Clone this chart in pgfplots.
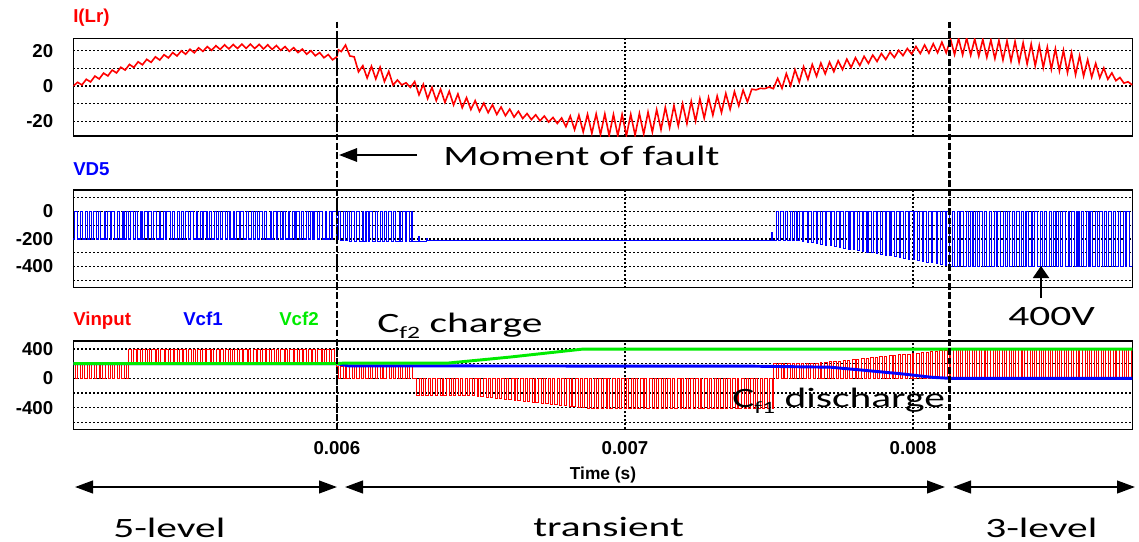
\documentclass[border=0pt]{standalone}
\usepackage{fontspec}
\setmainfont{Liberation Sans}
\newfontfamily\calib{Carlito}
\usepackage{graphicx}
\usepackage{pgfplots}
\pgfplotsset{compat=1.18}
\usetikzlibrary{arrows.meta}
\definecolor{vgreen}{RGB}{0,235,0}
\newcommand\ticfont{\fontsize{14}{14}\selectfont\bfseries}
\newcommand\labfont{\fontsize{14}{14}\selectfont\bfseries}
\newcommand\ann[1]{\scalebox{1.48}[1]{\calib\fontsize{21}{21}\selectfont #1}}
\pgfplotsset{panel/.style={
  scale only axis, width=794.25pt, xmin=5085, xmax=8761,
  xtick={6000,7000,8000}, xticklabels={},
  grid=major, major grid style={black, line width=0.95pt, dash pattern=on 1.4pt off 1.6pt},
  major tick length=0pt,
  axis line style={black, line width=1.1pt},
  tick label style={font=\ticfont},
  yticklabel style={xshift=-11.5pt},
  /pgf/number format/assume math mode=true,
  anchor=north west,
}}
\begin{document}
\begin{tikzpicture}
\useasboundingbox (0,0) rectangle (854.25pt,-406.5pt);
% ---------- Panel 1: I(Lr)
\begin{axis}[panel, at={(54.975pt,-28.725pt)}, height=73.275pt,
  ymin=-28.3, ymax=27, ytick={-20,-10,0,10,20}, yticklabels={-20,,0,,20}]
\addplot[red, line width=1.2pt] coordinates {
(5085,0.0)(5100,2.1)(5115,0.6)(5130,3.8)(5145,2.3)(5160,5.6)(5175,4.0)(5190,7.3)(5205,5.7)(5220,9.0)
(5235,7.4)(5250,10.6)(5265,9.0)(5280,12.2)(5295,10.5)(5310,13.7)(5325,12.0)(5340,15.1)(5355,13.4)(5370,16.5)
(5385,14.7)(5400,17.7)(5415,15.9)(5430,18.9)(5445,17.0)(5460,19.9)(5475,18.0)(5490,20.8)(5505,18.8)(5520,21.6)
(5535,19.6)(5550,22.3)(5565,20.2)(5580,22.8)(5595,20.7)(5610,23.3)(5625,21.0)(5640,23.5)(5655,21.2)(5670,23.7)
(5685,21.3)(5700,23.7)(5715,21.2)(5730,23.6)(5745,21.0)(5760,23.3)(5775,20.7)(5790,22.9)(5805,20.2)(5820,22.3)
(5835,19.6)(5850,21.7)(5865,18.9)(5880,20.9)(5895,18.0)(5910,20.0)(5925,17.1)(5940,18.9)(5955,16.0)(5970,17.8)
(5985,14.8)(6000,16.6)
(6005,20.5)(6015,19.5)(6030,23.2)(6045,17.0)(6060,16.5)(6075,8.0)(6090,11.5)(6105,4.5)(6120,11.2)(6135,4.0)
(6150,10.7)(6165,2.5)(6180,8.3)(6195,0.5)(6210,3.4)(6225,0.6)(6240,1.8)(6255,-0.8)(6270,2.5)(6285,-5.0)
(6300,1.0)(6315,-7.2)(6330,-0.8)(6345,-8.3)(6360,-1.8)(6375,-9.3)(6390,-3.0)(6405,-10.7)(6420,-4.5)(6435,-12.3)
(6450,-6.6)(6465,-13.3)(6480,-8.3)(6495,-14.4)(6510,-9.7)(6525,-15.1)(6540,-10.6)(6555,-16.1)(6570,-11.9)(6585,-16.8)
(6600,-13.1)(6615,-17.6)(6630,-14.3)(6645,-18.4)(6660,-15.6)(6675,-19.0)(6690,-16.3)(6705,-19.7)(6720,-17.0)(6735,-20.4)
(6750,-17.8)(6765,-21.2)(6780,-18.1)(6795,-23.0)(6810,-17.0)(6825,-24.7)(6840,-16.5)(6855,-26.0)(6870,-16.0)(6885,-26.8)
(6900,-15.8)(6915,-27.5)(6930,-15.8)(6945,-28.0)(6960,-16.1)(6975,-28.1)(6990,-16.1)(7005,-28.1)(7020,-16.0)(7035,-27.8)
(7050,-15.5)(7065,-27.2)(7080,-14.8)(7095,-26.1)(7110,-13.4)(7125,-24.7)(7140,-12.1)(7155,-23.6)(7170,-11.1)(7185,-22.6)
(7200,-10.0)(7215,-21.3)(7230,-8.6)(7245,-19.9)(7260,-7.2)(7275,-18.2)(7290,-6.6)(7305,-16.5)(7320,-5.7)(7335,-15.0)
(7350,-4.2)(7365,-13.2)(7380,-3.2)(7395,-11.2)(7410,-2.3)(7425,-9.0)(7440,-1.8)(7455,-2.2)(7470,-1.3)(7485,-1.5)
(7500,-0.6)(7515,-1.5)(7530,4.3)(7545,-1.3)(7560,7.0)(7575,0.2)(7590,9.2)(7605,2.2)(7620,10.9)(7635,3.7)
(7650,12.2)(7665,5.5)(7680,13.0)(7695,6.9)(7710,13.5)(7725,8.1)(7740,14.3)(7755,9.3)(7770,15.2)(7785,10.5)
(7800,16.0)(7815,11.6)(7830,16.8)(7845,12.8)(7860,17.5)(7875,13.9)(7890,18.4)(7905,15.0)(7920,19.2)(7935,16.1)
(7950,20.2)(7965,17.2)(7980,21.2)(7995,18.1)(8010,22.4)(8025,18.4)(8040,23.2)(8055,18.6)(8070,23.9)(8085,18.8)
(8100,24.8)(8115,18.8)
(8130,26.5)(8144,17.8)(8158,26.8)(8172,17.6)(8186,27.0)(8200,17.4)(8214,26.6)(8228,16.9)(8242,26.3)(8256,16.2)
(8270,26.0)(8284,15.5)(8298,25.7)(8312,14.7)(8326,25.5)(8340,14.1)(8354,25.2)(8368,13.4)(8382,24.5)(8396,12.4)
(8410,23.8)(8424,11.4)(8438,22.9)(8452,10.4)(8466,22.0)(8480,9.5)(8494,21.1)(8508,8.6)(8522,20.2)(8536,7.6)
(8550,18.9)(8564,6.4)(8578,17.1)(8592,5.6)(8606,14.9)(8620,5.0)(8634,12.8)(8648,4.6)(8662,10.2)(8676,3.8)
(8690,7.4)(8704,3.0)(8718,4.8)(8732,1.6)(8746,2.4)(8761,0.6)};
\coordinate (F1t) at (axis cs:6000,27);
\coordinate (F2t) at (axis cs:8126,27);
\end{axis}
% ---------- Panel 2: VD5
\begin{axis}[panel, at={(54.975pt,-142.5pt)}, height=73.275pt,
  ymin=-554, ymax=156, ytick={-500,-400,-300,-200,-100,0,100}, yticklabels={,-400,,-200,,0,}]
\addplot[blue, line width=0.8pt, const plot] coordinates {
(5085,-200)(5090,0)(5101,-200)(5109,0)(5117,-200)(5128,0)(5133,-200)(5141,0)(5149,-200)(5154,0)
(5165,-200)(5173,0)(5181,-200)(5192,0)(5197,-200)(5205,0)(5213,-200)(5218,0)(5229,-200)(5237,0)
(5245,-200)(5256,0)(5261,-200)(5269,0)(5277,-200)(5282,0)(5293,-200)(5301,0)(5309,-200)(5320,0)
(5325,-200)(5333,0)(5341,-200)(5346,0)(5357,-200)(5365,0)(5373,-200)(5384,0)(5389,-200)(5397,0)
(5405,-200)(5410,0)(5421,-200)(5429,0)(5437,-200)(5448,0)(5453,-200)(5461,0)(5469,-200)(5474,0)
(5485,-200)(5493,0)(5501,-200)(5512,0)(5517,-200)(5525,0)(5533,-200)(5538,0)(5549,-200)(5557,0)
(5565,-200)(5576,0)(5581,-200)(5589,0)(5597,-200)(5602,0)(5613,-200)(5621,0)(5629,-200)(5640,0)
(5645,-200)(5653,0)(5661,-200)(5666,0)(5677,-200)(5685,0)(5693,-200)(5704,0)(5709,-200)(5717,0)
(5725,-200)(5730,0)(5741,-200)(5749,0)(5757,-200)(5768,0)(5773,-200)(5781,0)(5789,-200)(5794,0)
(5805,-200)(5813,0)(5821,-200)(5832,0)(5837,-200)(5845,0)(5853,-200)(5858,0)(5869,-200)(5877,0)
(5885,-200)(5896,0)(5901,-200)(5909,0)(5917,-200)(5922,0)(5933,-200)(5941,0)(5949,-200)(5960,0)
(5965,-200)(5973,0)(5981,-200)(5986,0)
(5997,-205)(6005,0)(6013,-210)(6024,0)(6029,-210)(6037,0)(6045,-215)(6050,0)(6061,-215)(6069,0)
(6077,-220)(6088,0)(6093,-220)(6101,0)(6109,-220)(6114,0)(6125,-220)(6133,0)(6141,-220)(6152,0)
(6157,-220)(6165,0)(6173,-220)(6178,0)(6189,-220)(6197,0)(6205,-220)(6216,0)(6221,-220)(6229,0)
(6237,-220)(6242,0)(6253,-220)(6258,0)
(6262,-215)(6285,-185)(6288,-215)(6310,-195)(6313,-213)(7508,-150)(7512,-213)
(7525,0)(7533,-213)(7541,0)(7551,-213)(7557,0)(7563,-213)(7573,0)(7582,-213)(7589,0)(7597,-213)
(7605,0)(7616,-217)(7621,0)(7632,-222)(7637,0)(7648,-228)(7653,0)(7664,-233)(7669,0)(7680,-239)
(7685,0)(7696,-244)(7701,0)(7712,-250)(7717,0)(7728,-256)(7733,0)(7744,-261)(7749,0)(7760,-267)
(7765,0)(7776,-273)(7781,0)(7792,-278)(7797,0)(7808,-284)(7813,0)(7824,-289)(7829,0)(7840,-295)
(7845,0)(7856,-301)(7861,0)(7872,-306)(7877,0)(7888,-312)(7893,0)(7904,-318)(7909,0)(7920,-323)
(7925,0)(7936,-329)(7941,0)(7952,-335)(7957,0)(7968,-340)(7973,0)(7984,-346)(7989,0)(8000,-351)
(8005,0)(8016,-357)(8021,0)(8032,-363)(8037,0)(8048,-368)(8053,0)(8064,-374)(8069,0)(8080,-380)
(8085,0)(8096,-385)(8101,0)(8112,-391)(8117,0)
(8128,-400)(8136,0)(8144,-400)(8154,0)(8160,-400)(8166,0)(8176,-400)(8185,0)(8192,-400)(8200,0)
(8208,-400)(8218,0)(8224,-400)(8230,0)(8240,-400)(8249,0)(8256,-400)(8264,0)(8272,-400)(8282,0)
(8288,-400)(8294,0)(8304,-400)(8313,0)(8320,-400)(8328,0)(8336,-400)(8346,0)(8352,-400)(8358,0)
(8368,-400)(8377,0)(8384,-400)(8392,0)(8400,-400)(8410,0)(8416,-400)(8422,0)(8432,-400)(8441,0)
(8448,-400)(8456,0)(8464,-400)(8474,0)(8480,-400)(8486,0)(8496,-400)(8505,0)(8512,-400)(8520,0)
(8528,-400)(8538,0)(8544,-400)(8550,0)(8560,-400)(8569,0)(8576,-400)(8584,0)(8592,-400)(8602,0)
(8608,-400)(8614,0)(8624,-400)(8633,0)(8640,-400)(8648,0)(8656,-400)(8666,0)(8672,-400)(8678,0)
(8688,-400)(8697,0)(8704,-400)(8712,0)(8720,-400)(8730,0)(8736,-400)(8742,0)(8752,-400)(8761,0)};
\end{axis}
% ---------- Panel 3: Vinput, Vcf1, Vcf2
\begin{axis}[panel, at={(54.975pt,-255.75pt)}, height=66.225pt,
  ymin=-697, ymax=510, ytick={-600,-400,-200,0,200,400}, yticklabels={,-400,,0,,400},
  xticklabels={0.006,0.007,0.008}, xticklabel style={yshift=-5.8pt}]
\addplot[red, line width=0.75pt, const plot] coordinates {
(5085,200)(5093,0)(5101,200)(5111,0)(5117,200)(5123,0)(5133,200)(5142,0)(5149,200)(5157,0)
(5165,200)(5175,0)(5181,200)(5187,0)(5197,200)(5206,0)(5213,200)(5221,0)(5229,200)(5239,0)
(5245,200)(5251,0)(5261,200)(5270,0)
(5277,400)(5287,200)(5293,400)(5305,200)(5309,400)(5317,200)(5325,400)(5336,200)(5341,400)(5351,200)
(5357,400)(5369,200)(5373,400)(5381,200)(5389,400)(5400,200)(5405,400)(5415,200)(5421,400)(5433,200)
(5437,400)(5445,200)(5453,400)(5464,200)(5469,400)(5479,200)(5485,400)(5497,200)(5501,400)(5509,200)
(5517,400)(5528,200)(5533,400)(5543,200)(5549,400)(5561,200)(5565,400)(5573,200)(5581,400)(5592,200)
(5597,400)(5607,200)(5613,400)(5625,200)(5629,400)(5637,200)(5645,400)(5656,200)(5661,400)(5671,200)
(5677,400)(5689,200)(5693,400)(5701,200)(5709,400)(5720,200)(5725,400)(5735,200)(5741,400)(5753,200)
(5757,400)(5765,200)(5773,400)(5784,200)(5789,400)(5799,200)(5805,400)(5817,200)(5821,400)(5829,200)
(5837,400)(5848,200)(5853,400)(5863,200)(5869,400)(5881,200)(5885,400)(5893,200)(5901,400)(5912,200)
(5917,400)(5927,200)(5933,400)(5945,200)(5949,400)(5957,200)(5965,400)(5976,200)(5981,400)(5991,200)
(5997,165)(6005,0)(6013,165)(6023,0)(6029,165)(6035,0)(6045,165)(6054,0)(6061,165)(6069,0)
(6077,165)(6087,0)(6093,165)(6099,0)(6109,165)(6118,0)(6125,165)(6133,0)(6141,165)(6151,0)
(6157,165)(6163,0)(6173,165)(6182,0)(6189,165)(6197,0)(6205,165)(6215,0)(6221,165)(6227,0)
(6237,165)(6246,0)(6253,165)(6261,0)
(6269,0)(6277,-229)(6285,0)(6295,-229)(6301,0)(6307,-229)(6317,0)(6326,-229)(6333,0)(6341,-229)
(6349,0)(6359,-229)(6365,0)(6371,-229)(6381,0)(6390,-229)(6397,0)(6405,-229)(6413,0)(6423,-229)
(6429,0)(6435,-229)(6445,0)(6454,-231)(6461,0)(6469,-237)(6477,0)(6487,-245)(6493,0)(6499,-250)
(6509,0)(6518,-258)(6525,0)(6533,-265)(6541,0)(6551,-273)(6557,0)(6563,-278)(6573,0)(6582,-286)
(6589,0)(6597,-292)(6605,0)(6615,-300)(6621,0)(6627,-305)(6637,0)(6646,-314)(6653,0)(6661,-320)
(6669,0)(6679,-328)(6685,0)(6691,-333)(6701,0)(6710,-341)(6717,0)(6725,-348)(6733,0)(6743,-356)
(6749,0)(6755,-361)(6765,0)(6774,-369)(6781,0)(6789,-375)(6797,0)(6807,-383)(6813,0)(6819,-388)
(6829,0)(6838,-397)(6845,0)(6853,-403)(6861,0)(6871,-409)(6877,0)(6883,-409)(6893,0)(6902,-409)
(6909,0)(6917,-409)(6925,0)(6935,-409)(6941,0)(6947,-409)(6957,0)(6966,-409)(6973,0)(6981,-409)
(6989,0)(6999,-409)(7005,0)(7011,-409)(7021,0)(7030,-409)(7037,0)(7045,-409)(7053,0)(7063,-409)
(7069,0)(7075,-409)(7085,0)(7094,-409)(7101,0)(7109,-409)(7117,0)(7127,-409)(7133,0)(7139,-409)
(7149,0)(7158,-409)(7165,0)(7173,-409)(7181,0)(7191,-409)(7197,0)(7203,-409)(7213,0)(7222,-409)
(7229,0)(7237,-409)(7245,0)(7255,-409)(7261,0)(7267,-409)(7277,0)(7286,-409)(7293,0)(7301,-409)
(7309,0)(7319,-409)(7325,0)(7331,-409)(7341,0)(7350,-409)(7357,0)(7365,-409)(7373,0)(7383,-409)
(7389,0)(7395,-409)(7405,0)(7414,-409)(7421,0)(7429,-409)(7437,0)(7447,-409)(7453,0)(7459,-409)
(7469,0)(7478,-409)(7485,0)(7493,-409)(7501,0)(7511,-409)
(7517,200)(7525,0)(7533,200)(7543,0)(7549,200)(7555,0)(7565,200)(7574,0)(7581,200)(7589,0)
(7597,200)(7607,0)(7613,200)(7619,0)(7629,200)(7638,0)(7645,200)(7653,0)(7661,204)(7671,0)
(7677,211)(7683,0)(7693,217)(7702,0)(7709,224)(7717,0)(7725,230)(7735,0)(7741,236)(7747,0)
(7757,243)(7766,0)(7773,249)(7781,0)(7789,256)(7799,0)(7805,262)(7811,0)(7821,268)(7830,0)
(7837,275)(7845,0)(7853,281)(7863,0)(7869,288)(7875,0)(7885,294)(7894,0)(7901,300)(7909,0)
(7917,307)(7927,0)(7933,313)(7939,0)(7949,320)(7958,0)(7965,326)(7973,0)(7981,332)(7991,0)
(7997,339)(8003,0)(8013,345)(8022,0)(8029,352)(8037,0)(8045,358)(8055,0)(8061,364)(8067,0)
(8077,371)(8086,0)(8093,377)(8101,0)(8109,384)(8119,0)
(8125,395)(8131,0)(8141,395)(8150,0)(8157,395)(8165,0)(8173,395)(8183,0)(8189,395)(8195,0)
(8205,395)(8214,0)(8221,395)(8229,0)(8237,395)(8247,0)(8253,395)(8259,0)(8269,395)(8278,0)
(8285,395)(8293,0)(8301,395)(8311,0)(8317,395)(8323,0)(8333,395)(8342,0)(8349,395)(8357,0)
(8365,395)(8375,0)(8381,395)(8387,0)(8397,395)(8406,0)(8413,395)(8421,0)(8429,395)(8439,0)
(8445,395)(8451,0)(8461,395)(8470,0)(8477,395)(8485,0)(8493,395)(8503,0)(8509,395)(8515,0)
(8525,395)(8534,0)(8541,395)(8549,0)(8557,395)(8567,0)(8573,395)(8579,0)(8589,395)(8598,0)
(8605,395)(8613,0)(8621,395)(8631,0)(8637,395)(8643,0)(8653,395)(8662,0)(8669,395)(8677,0)
(8685,395)(8695,0)(8701,395)(8707,0)(8717,395)(8726,0)(8733,395)(8741,0)(8749,395)(8758,0)(8761,0)};
\addplot[blue, line width=2.2pt] coordinates {(5085,200)(6000,200)(6040,170)(7440,166)(7712,152)(7840,106)(7961,61)(8065,14)(8126,0)(8761,0)};
\addplot[vgreen, line width=2.2pt] coordinates {(5085,200)(6000,200)(6020,207)(6382,207)(6600,290)(6855,400)(8761,400)};
\coordinate (F1b) at (axis cs:6000,-697);
\coordinate (F2b) at (axis cs:8126,-697);
\end{axis}
% ---------- fault / mode boundaries
\draw[black, line width=1.8pt, dash pattern=on 5pt off 2pt] ([yshift=12.5pt]F1t) -- ([yshift=-2pt]F1b);
\draw[black, line width=1.8pt, dash pattern=on 5pt off 2pt] ([yshift=12.5pt]F2t) -- ([yshift=-2pt]F2b);
% ---------- annotations
\begin{scope}[x=0.75pt,y=-0.75pt]
\node[anchor=base west, inner sep=0, text=red, font=\labfont] at (73,22.5) {I(Lr)};
\node[anchor=base west, inner sep=0, text=blue, font=\labfont] at (73,175) {VD5};
\node[anchor=base west, inner sep=0, text=red, font=\labfont] at (73,325) {Vinput};
\node[anchor=base west, inner sep=0, text=blue, font=\labfont] at (183,325) {Vcf1};
\node[anchor=base west, inner sep=0, text=vgreen, font=\labfont] at (279,325) {Vcf2};
\node[anchor=base, inner sep=0, font=\fontsize{13}{13}\selectfont\bfseries] at (603,479) {Time (s)};
\draw[line width=1.5pt, -{Triangle[length=13.5pt,width=10pt]}] (417,155) -- (339,155);
\node[anchor=base west, inner sep=0] at (443,166) {\ann{Moment of fault}};
\node[anchor=base west, inner sep=0] at (377,332) {\ann{C\raisebox{-4.5pt}{\fontsize{13}{13}\selectfont f2} charge}};
\node[anchor=base west, inner sep=0] at (732,407) {\ann{C\raisebox{-4.5pt}{\fontsize{13}{13}\selectfont f1} discharge}};
\node[anchor=base west, inner sep=0] at (1008,325) {\ann{400V}};
\draw[line width=1.5pt, -{Triangle[length=9pt,width=12pt]}] (1041,298) -- (1041,266);
\draw[line width=1.6pt, {Triangle[length=13.5pt,width=9.5pt]}-{Triangle[length=13.5pt,width=9.5pt]}] (75,487) -- (337,487);
\draw[line width=1.6pt, {Triangle[length=13.5pt,width=9.5pt]}-{Triangle[length=13.5pt,width=9.5pt]}] (345,487) -- (945,487);
\draw[line width=1.6pt, {Triangle[length=13.5pt,width=9.5pt]}-{Triangle[length=13.5pt,width=9.5pt]}] (953,487) -- (1135,487);
\node[anchor=base west, inner sep=0] at (113,537) {\ann{5-level}};
\node[anchor=base west, inner sep=0] at (533,536) {\ann{transient}};
\node[anchor=base west, inner sep=0] at (985,537) {\ann{3-level}};
\end{scope}
\end{tikzpicture}
\end{document}
